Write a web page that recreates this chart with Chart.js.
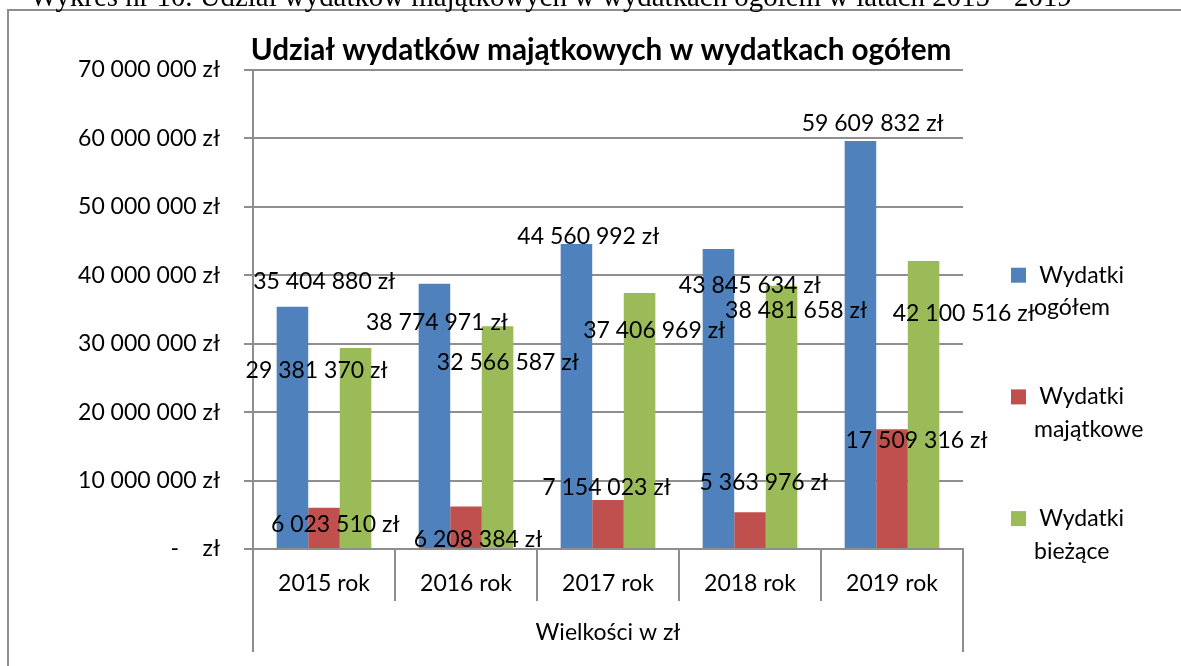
<!DOCTYPE html>
<html>
<head>
<meta charset="utf-8">
<script src="https://cdn.jsdelivr.net/npm/chart.js@4.4.1/dist/chart.umd.min.js"></script>
<style>
html,body{margin:0;padding:0;background:#ffffff;overflow:hidden;}
#wrap{position:absolute;left:0;top:0;width:1181px;height:666px;}
canvas{display:block;}
</style>
</head>
<body>
<div id="wrap"><canvas id="c" width="1181" height="666"></canvas></div>
<script>
// ---------------- data ----------------
const categories = ['2015 rok', '2016 rok', '2017 rok', '2018 rok', '2019 rok'];
const seriesNames = ['Wydatki ogółem', 'Wydatki majątkowe', 'Wydatki bieżące'];
const wydatkiOgolem = [35404880, 38774971, 44560992, 43845634, 59609832];
const wydatkiMajatkowe = [6023510, 6208384, 7154023, 5363976, 17509316];
const wydatkiBiezace = [29381370, 32566587, 37406969, 38481658, 42100516];
const yTickValues = [0, 10000000, 20000000, 30000000, 40000000, 50000000, 60000000, 70000000];
const chartTitle = 'Udział wydatków majątkowych w wydatkach ogółem';
const axisTitle = 'Wielkości w zł';
const captionText = 'Wykres nr 10. Udział wydatków majątkowych w wydatkach ogółem w latach 2015 - 2019';

// ---------------- label placement (pixel offsets from bar top-centre) ----------------
const labelOffsets = [
  [[31.7, -26.3], [2.5, 37.9], [11.9, -8.4], [31.4, 35.6], [12.2, -18.0]],
  [[11.2, 15.7], [12.0, 31.8], [-1.5, -13.6], [13.8, -30.6], [24.5, 10.8]],
  [[-39.0, 22.0], [10.3, 35.5], [14.6, 36.9], [14.5, 24.2], [40.2, 52.3]]
];

// ---------------- styling ----------------
const COLORS = ['#4F81BD', '#C0504D', '#9BBB59'];
const GRID = '#8e8e8e';
const SANS = 'Lato';
const SERIF = '"Liberation Serif"';

const mctx = document.createElement('canvas').getContext('2d');
function fitSize(text, width, weight, family) {
  mctx.font = weight + ' 100px ' + family;
  return 100 * width / mctx.measureText(text).width;
}
const baseSize = fitSize('70 000 000 zł', 142, 'normal', SANS);
const titleSize = fitSize(chartTitle, 701, 'bold', SANS);
const captionSize = fitSize(captionText, 1042, 'normal', SERIF);

function fmt(v) {
  if (v === 0) return '-    zł';
  return Math.round(v).toString().replace(/\B(?=(\d{3})+(?!\d))/g, ' ') + ' zł';
}

const decorPlugin = {
  id: 'decor',
  afterDatasetsDraw(chart) {
    const ctx = chart.ctx;
    ctx.save();
    ctx.fillStyle = '#000';
    ctx.font = baseSize + 'px ' + SANS;
    ctx.textAlign = 'center';
    ctx.textBaseline = 'alphabetic';
    const capHalf = 0.358 * baseSize;
    chart.data.datasets.forEach((ds, di) => {
      const meta = chart.getDatasetMeta(di);
      meta.data.forEach((el, i) => {
        const off = labelOffsets[di][i];
        ctx.fillText(fmt(ds.data[i]), el.x + off[0], el.y + off[1] + capHalf);
      });
    });
    ctx.restore();
  },
  afterDraw(chart) {
    const ctx = chart.ctx;
    const ca = chart.chartArea;
    ctx.save();
    // outer frame
    ctx.strokeStyle = GRID;
    ctx.lineWidth = 2;
    ctx.beginPath();
    ctx.moveTo(8, 666);
    ctx.lineTo(8, 10);
    ctx.lineTo(1181, 10);
    ctx.stroke();
    // extended group edges of the category axis
    ctx.beginPath();
    ctx.moveTo(Math.round(ca.left), ca.bottom);
    ctx.lineTo(Math.round(ca.left), 652);
    ctx.moveTo(Math.round(ca.right), ca.bottom);
    ctx.lineTo(Math.round(ca.right), 652);
    ctx.stroke();
    // caption (clipped at the top of the page)
    ctx.fillStyle = '#000';
    ctx.textAlign = 'left';
    ctx.textBaseline = 'alphabetic';
    ctx.font = captionSize + 'px ' + SERIF;
    ctx.fillText(captionText, 30, 6);
    // chart title
    ctx.font = 'bold ' + titleSize + 'px ' + SANS;
    ctx.fillText(chartTitle, 250.7, 60);
    // legend
    ctx.font = baseSize + 'px ' + SANS;
    chart.data.datasets.forEach((ds, di) => {
      const y0 = 267.7 + 121.7 * di;
      ctx.fillStyle = ds.backgroundColor;
      ctx.fillRect(1011, y0, 15, 15);
      ctx.fillStyle = '#000';
      const parts = ds.label.split(' ');
      ctx.fillText(parts[0], 1039.3, y0 + 15);
      ctx.fillText(parts.slice(1).join(' '), 1034, y0 + 15 + 32.7);
    });
    ctx.restore();
  }
};

const datasets = [wydatkiOgolem, wydatkiMajatkowe, wydatkiBiezace].map((arr, i) => ({
  label: seriesNames[i],
  data: arr,
  backgroundColor: COLORS[i],
  borderWidth: 0,
  categoryPercentage: 2 / 3,
  barPercentage: 1.0
}));

const lh = baseSize * 1.2;

new Chart(document.getElementById('c'), {
  type: 'bar',
  data: { labels: categories, datasets: datasets },
  plugins: [decorPlugin],
  options: {
    responsive: false,
    animation: false,
    devicePixelRatio: 1,
    layout: { padding: { left: 0, top: 70, right: 218, bottom: 0 } },
    plugins: {
      legend: { display: false },
      title: { display: false },
      tooltip: { enabled: false }
    },
    scales: {
      x: {
        offset: true,
        grid: { display: true, drawOnChartArea: false, drawTicks: true, tickLength: 52, offset: true, color: GRID, lineWidth: 2 },
        border: { display: true, color: GRID, width: 2 },
        ticks: { font: { family: SANS, size: baseSize }, color: '#000', padding: 584 - 549 - 52 - lh / 2, maxRotation: 0, autoSkip: false },
        title: { display: true, text: axisTitle, font: { family: SANS, size: baseSize }, color: '#000', padding: { top: 4, bottom: 666 - 633 - lh / 2 } },
        afterFit: (s) => { s.height = 117; }
      },
      y: {
        min: 0,
        max: 70000000,
        afterBuildTicks: (s) => { s.ticks = yTickValues.map(v => ({ value: v })); },
        grid: { color: GRID, lineWidth: 2, tickLength: 9, drawTicks: true },
        border: { display: true, color: GRID, width: 2 },
        ticks: { font: { family: SANS, size: baseSize }, color: '#000', padding: 24, callback: (v) => fmt(v) },
        afterFit: (s) => { s.width = 253; }
      }
    }
  }
});
</script>
</body>
</html>
